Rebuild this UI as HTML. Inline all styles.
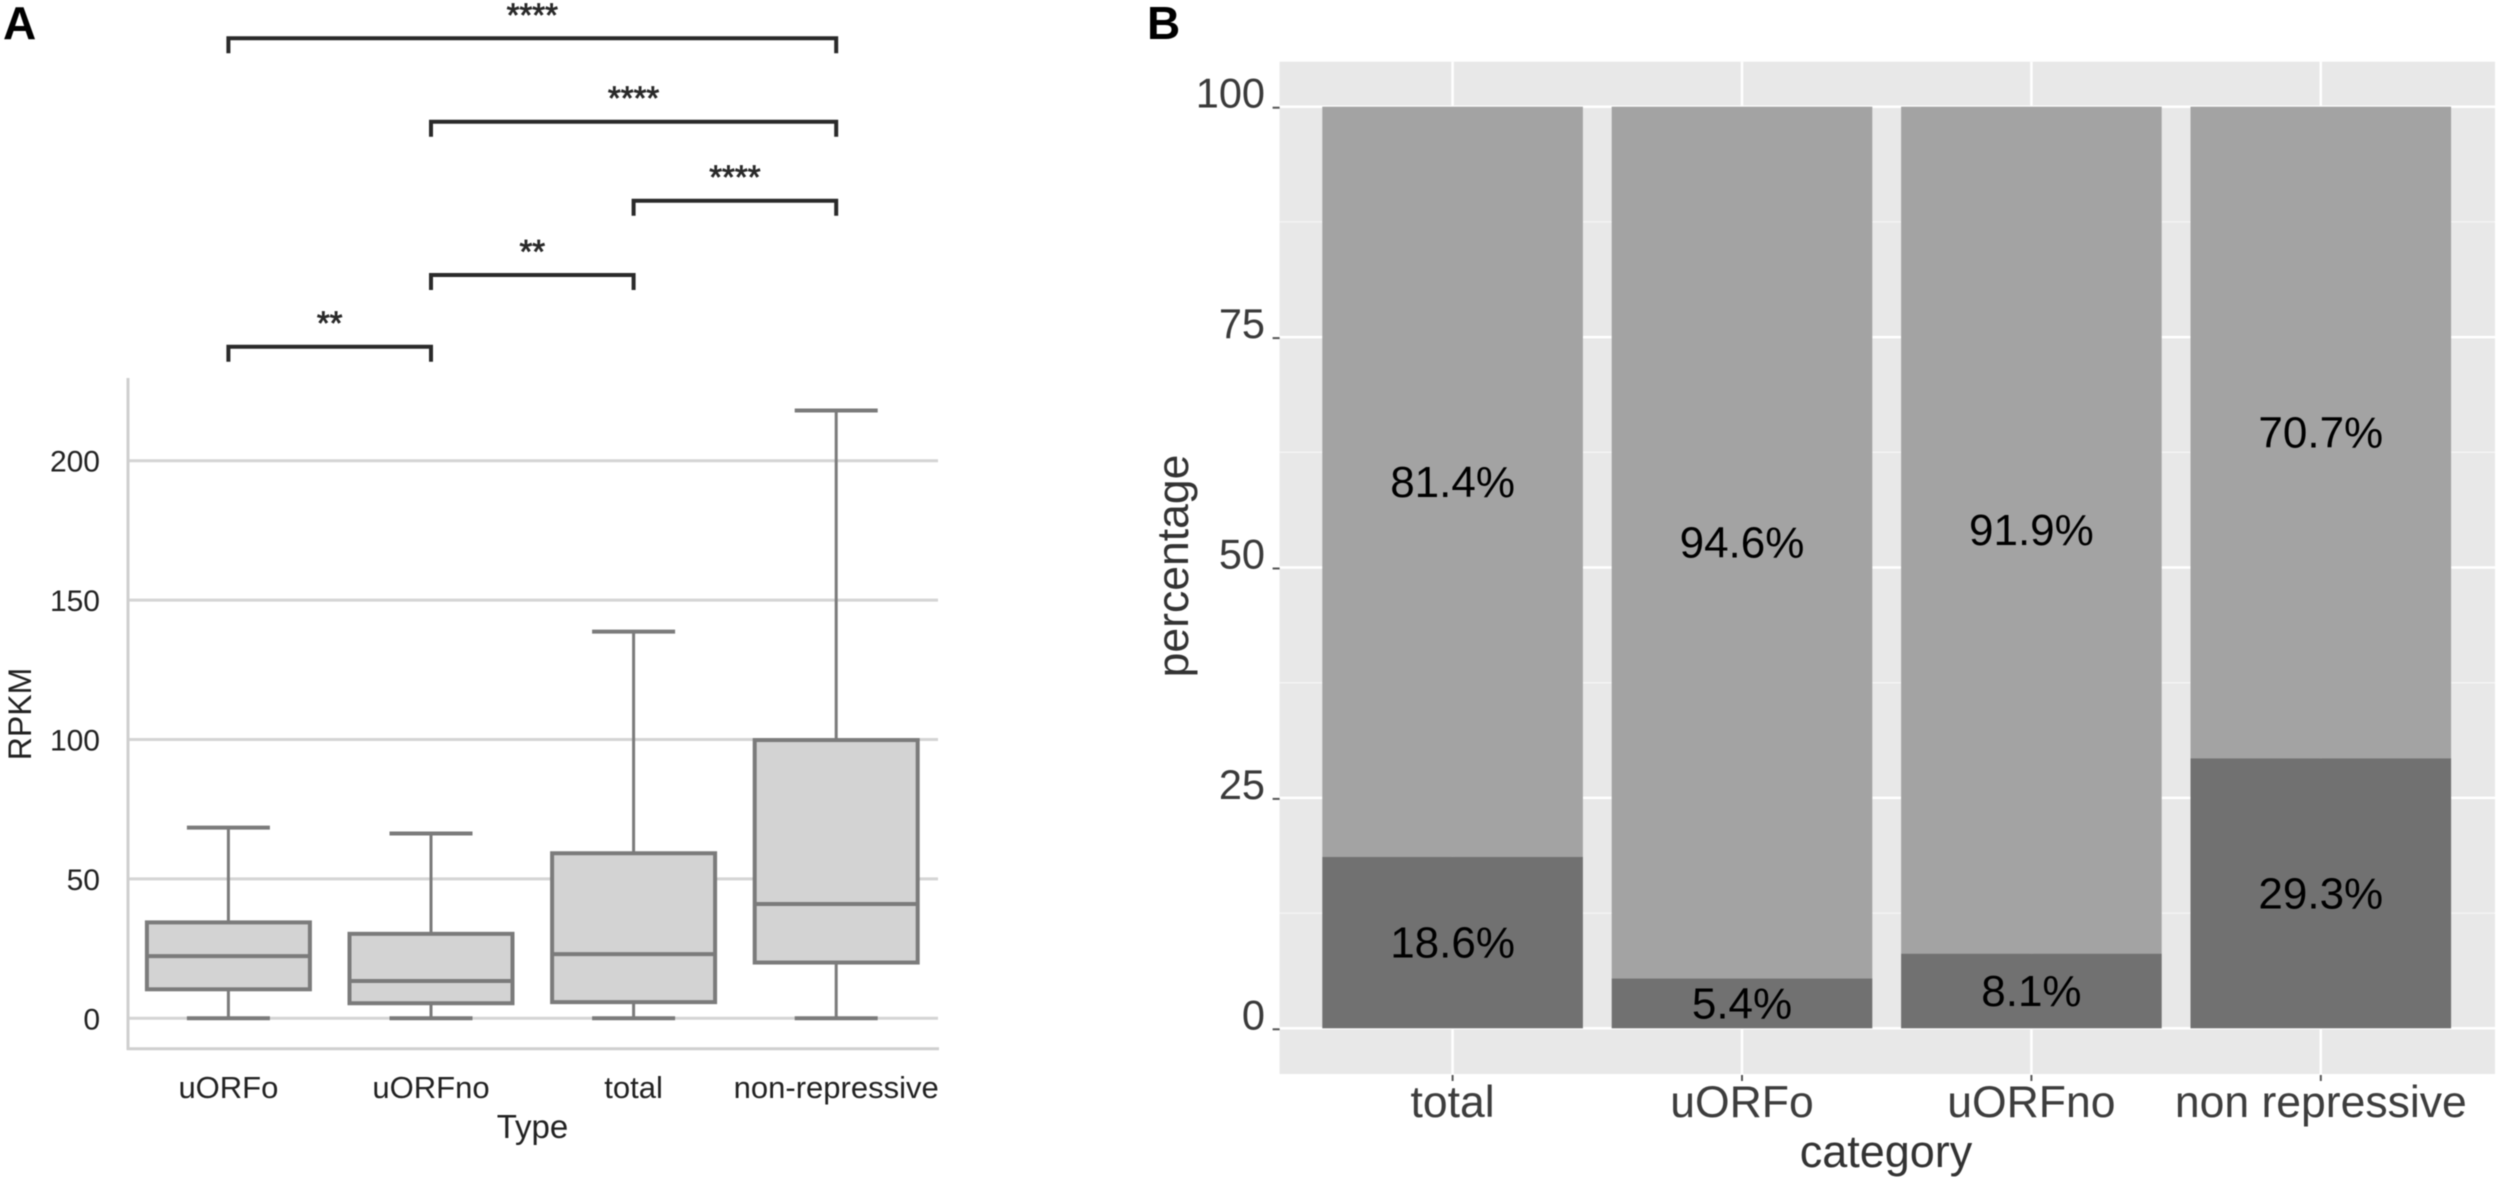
<!DOCTYPE html>
<html lang="en">
<head>
<meta charset="utf-8">
<title>RPKM box plot and percentage stacked bars</title>
<style>
html,body{margin:0;padding:0;background:#fff;}
svg{display:block;font-family:"Liberation Sans",Arial,sans-serif;filter:blur(0.5px);}
</style>
</head>
<body>
<svg id="figure" xmlns="http://www.w3.org/2000/svg" width="2500" height="1183" viewBox="0 0 2500 1183">
  <rect x="0" y="0" width="2500" height="1183" fill="#ffffff"/>
  <text x="3" y="39" font-size="46" font-weight="bold" fill="#000">A</text>
  <text x="1147" y="39" font-size="46" font-weight="bold" fill="#000">B</text>
  <text transform="translate(31 714) rotate(-90)" text-anchor="middle" font-size="32" fill="#222">RPKM</text>
  <text x="532.5" y="1138" text-anchor="middle" font-size="33" fill="#222">Type</text>
  <text transform="translate(1188 566) rotate(-90)" text-anchor="middle" font-size="44.5" fill="#333">percentage</text>
  <text x="1886" y="1167" text-anchor="middle" font-size="45" fill="#333">category</text>
</svg>
<script>
// Panel A data
const boxCategories = ['uORFo', 'uORFno', 'total', 'non-repressive'];
const whiskerLow = [0, 0, 0, 0];
const q1Values = [10.4, 5.4, 5.8, 20];
const medianValues = [22.3, 13.4, 23, 41];
const q3Values = [34.4, 30.3, 59.2, 99.8];
const whiskerHigh = [68.4, 66.3, 138.7, 218];
const boxTicks = [0, 50, 100, 150, 200];
const bracketFrom = [0, 1, 2, 1, 0];
const bracketTo = [3, 3, 3, 2, 1];
const bracketLabels = ['****', '****', '****', '**', '**'];

// Panel B data
const barCategories = ['total', 'uORFo', 'uORFno', 'non repressive'];
const darkValues = [18.6, 5.4, 8.1, 29.3];
const lightValues = [81.4, 94.6, 91.9, 70.7];
const barTicks = [0, 25, 50, 75, 100];
const barMinorTicks = [12.5, 37.5, 62.5, 87.5];

const svg = document.getElementById('figure');
const NS = 'http://www.w3.org/2000/svg';
function mk(tag, attrs, text) {
  const e = document.createElementNS(NS, tag);
  for (const k in attrs) e.setAttribute(k, attrs[k]);
  if (text !== undefined) e.textContent = text;
  svg.appendChild(e);
  return e;
}
const xA = i => 228.4 + i * 202.6;
const yA = v => 1018.3 - v * 2.788;
const xB = i => 1452.6 + i * 289.4;
const yB = v => 1028.3 - v * 9.216;

function drawPanelA() {
  const grid = '#d4d4d4', edge = '#7b7b7b', fill = '#d3d3d3';
  boxTicks.forEach(t => {
    const g = mk('line', {x1: 128, x2: 938, y1: yA(t), y2: yA(t), stroke: grid, 'stroke-width': 3});
    
    
    const l = mk('text', {x: 100, y: yA(t) + 11, 'text-anchor': 'end', 'font-size': 30, fill: '#222'}, String(t));
    
    
  });
  const ay = mk('line', {x1: 128, x2: 128, y1: 378, y2: 1050, stroke: '#cfcfcf', 'stroke-width': 3});
  
  
  const ax = mk('line', {x1: 127, x2: 939, y1: 1048.7, y2: 1048.7, stroke: '#cfcfcf', 'stroke-width': 3});
  
  

  boxCategories.forEach((c, i) => {
    const cx = xA(i), boxW = 163, capW = 83;
    const w1 = mk('line', {x1: cx, x2: cx, y1: yA(q3Values[i]), y2: yA(whiskerHigh[i]), stroke: edge, 'stroke-width': 3});
    
    
    const w2 = mk('line', {x1: cx, x2: cx, y1: yA(q1Values[i]), y2: yA(whiskerLow[i]), stroke: edge, 'stroke-width': 3});
    
    
    const c1 = mk('line', {x1: cx - capW / 2, x2: cx + capW / 2, y1: yA(whiskerHigh[i]), y2: yA(whiskerHigh[i]), stroke: edge, 'stroke-width': 4});
    
    
    const c2 = mk('line', {x1: cx - capW / 2, x2: cx + capW / 2, y1: yA(whiskerLow[i]), y2: yA(whiskerLow[i]), stroke: edge, 'stroke-width': 4});
    
    
    const b = mk('rect', {x: cx - boxW / 2, y: yA(q3Values[i]), width: boxW, height: yA(q1Values[i]) - yA(q3Values[i]), fill: fill, stroke: edge, 'stroke-width': 4});
    
    
    const m = mk('line', {x1: cx - boxW / 2, x2: cx + boxW / 2, y1: yA(medianValues[i]), y2: yA(medianValues[i]), stroke: edge, 'stroke-width': 4});
    
    
    const l = mk('text', {x: cx, y: 1098, 'text-anchor': 'middle', 'font-size': 31, fill: '#222'}, c);
    
    
  });

  const bracketRows = [38.3, 121.7, 200.7, 275, 346.7];
  bracketLabels.forEach((s, i) => {
    const x1 = xA(bracketFrom[i]), x2 = xA(bracketTo[i]), y = bracketRows[i];
    const p = mk('path', {d: `M${x1} ${y + 15}V${y}H${x2}V${y + 15}`, fill: 'none', stroke: '#2a2a2a', 'stroke-width': 4});
    
    
    const t = mk('text', {x: (x1 + x2) / 2, y: y - 12, 'text-anchor': 'middle', 'font-size': 33, fill: '#2a2a2a', stroke: '#2a2a2a', 'stroke-width': 0.8}, s);
    
    
  });
}

function drawPanelB() {
  const left = 1279.6, right = 2495, top = 61.7, bottom = 1074;
  const panel = mk('rect', {x: left, y: top, width: right - left, height: bottom - top, fill: '#e8e8e8'});
  
  
  barMinorTicks.forEach(t => {
    const g = mk('line', {x1: left, x2: right, y1: yB(t), y2: yB(t), stroke: '#f4f4f4', 'stroke-width': 1.5});
    
    
  });
  barTicks.forEach(t => {
    const g = mk('line', {x1: left, x2: right, y1: yB(t), y2: yB(t), stroke: '#fff', 'stroke-width': 2.5});
    
    
    const k = mk('line', {x1: left - 7, x2: left, y1: yB(t) + 1, y2: yB(t) + 1, stroke: '#555', 'stroke-width': 2});
    
    
    const l = mk('text', {x: 1265, y: yB(t) + 1, 'text-anchor': 'end', 'font-size': 41.5, fill: '#3a3a3a'}, String(t));
    
    
  });
  barCategories.forEach((c, i) => {
    const cx = xB(i), barW = 260.6;
    const g = mk('line', {x1: cx, x2: cx, y1: top, y2: bottom, stroke: '#fff', 'stroke-width': 2.5});
    
    
    const k = mk('line', {x1: cx, x2: cx, y1: bottom + 1, y2: bottom + 7, stroke: '#555', 'stroke-width': 2});
    
    
    const d = darkValues[i], u = lightValues[i];
    const lb = mk('rect', {x: cx - barW / 2, y: yB(d + u), width: barW, height: yB(d) - yB(d + u), fill: '#a3a3a3'});
    
    
    const db = mk('rect', {x: cx - barW / 2, y: yB(d), width: barW, height: yB(0) - yB(d), fill: '#717171'});
    
    
    const tl = mk('text', {x: cx, y: yB(d + u / 2) + 15, 'text-anchor': 'middle', 'font-size': 44, fill: '#000'}, u.toFixed(1) + '%');
    
    
    const td = mk('text', {x: cx, y: yB(d / 2) + 15, 'text-anchor': 'middle', 'font-size': 44, fill: '#000'}, d.toFixed(1) + '%');
    
    
    const l = mk('text', {x: cx, y: 1117, 'text-anchor': 'middle', 'font-size': 44.5, fill: '#3d3d3d'}, c);
    
    
  });
}

drawPanelA();
drawPanelB();
</script>
</body>
</html>
